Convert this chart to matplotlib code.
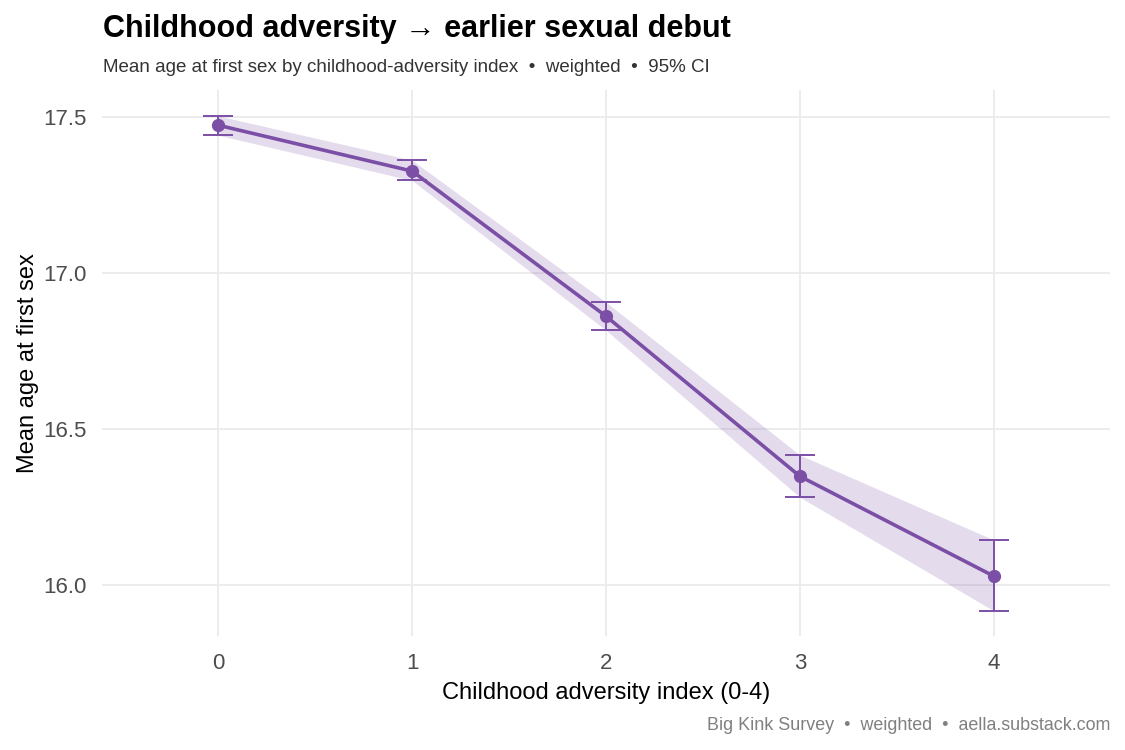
import numpy as np
import matplotlib.pyplot as plt

plt.rcParams['font.family'] = ['Liberation Sans', 'DejaVu Sans']

# data
adversity = [0, 1, 2, 3, 4]
mean_age = [17.474, 17.327, 16.862, 16.349, 16.029]
ci_low = [17.442, 17.297, 16.817, 16.282, 15.918]
ci_high = [17.504, 17.362, 16.907, 16.417, 16.145]
y_ticks = [16.0, 16.5, 17.0, 17.5]

purple = '#7b4fa6'

fig = plt.figure(figsize=(11.25, 7.5), dpi=100)
ax = fig.add_axes([102/1125, 1 - 636/750, (1110 - 102)/1125, (636 - 90)/750])

x = np.array(adversity)
ax.fill_between(x, ci_low, ci_high, color=purple, alpha=0.2, linewidth=0, zorder=2)
ax.plot(x, mean_age, color=purple, lw=2.6, zorder=3)
yerr = [np.array(mean_age) - np.array(ci_low), np.array(ci_high) - np.array(mean_age)]
ax.errorbar(x, mean_age, yerr=yerr, fmt='none', ecolor=purple, elinewidth=1.4,
            capsize=10.5, capthick=1.4, zorder=4)
ax.plot(x, mean_age, 'o', color=purple, ms=8.5, zorder=5)

ax.set_xlim(-0.6, 4.6)
ax.set_ylim(15.837, 17.587)
ax.set_xticks(adversity)
ax.set_yticks(y_ticks)
ax.set_yticklabels(['%.1f' % v for v in y_ticks])
ax.grid(True, color='#ebebeb', lw=1.3)
ax.set_axisbelow(True)
for s in ax.spines.values():
    s.set_visible(False)
ax.tick_params(length=0, labelsize=16, labelcolor='#4d4d4d')
ax.tick_params(axis='x', pad=12)
ax.tick_params(axis='y', pad=11)

ax.set_xlabel('Childhood adversity index (0-4)', fontsize=17, labelpad=6)
ax.set_ylabel('Mean age at first sex', fontsize=17, labelpad=3)

fig.text(103/1125, 1 - 29/750, 'Childhood adversity \u2192 earlier sexual debut',
         fontsize=22, fontweight='bold', va='center', ha='left')
fig.text(103/1125, 1 - 67/750,
         'Mean age at first sex by childhood-adversity index  \u2022  weighted  \u2022  95% CI',
         fontsize=13.5, color='#333333', va='center', ha='left')
fig.text(1110/1125, 1 - 725/750, 'Big Kink Survey  \u2022  weighted  \u2022  aella.substack.com',
         fontsize=12.9, color='#808080', va='center', ha='right')

fig.savefig('out.png', dpi=100)
